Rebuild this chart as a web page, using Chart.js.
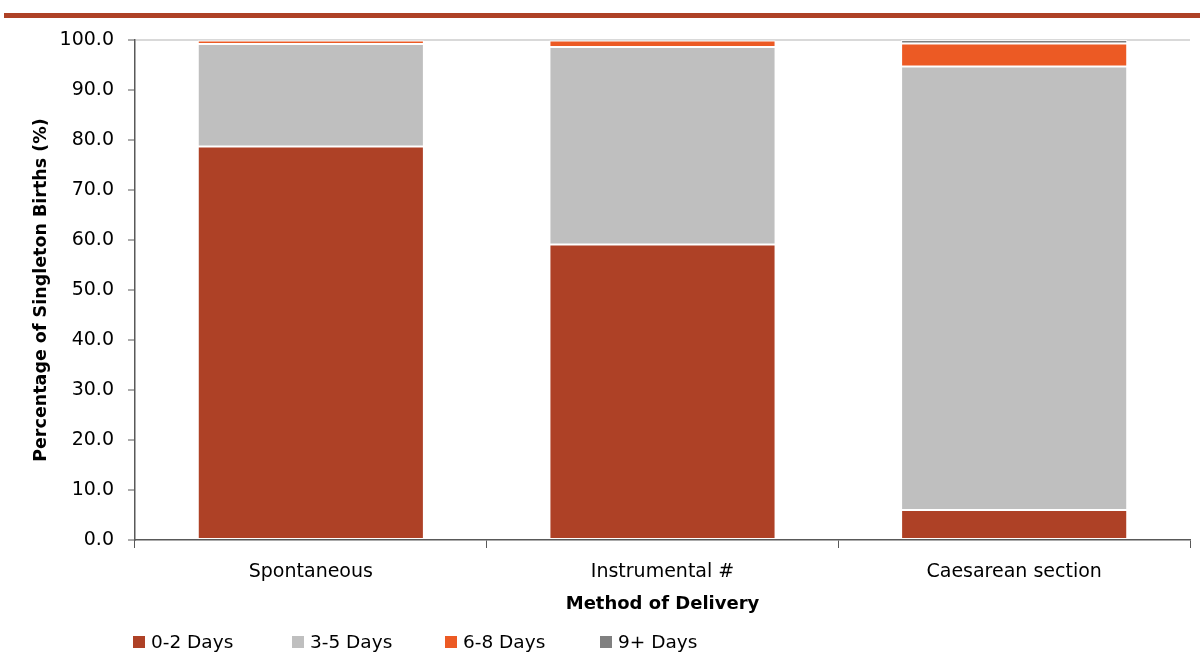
<!DOCTYPE html>
<html>
<head>
<meta charset="utf-8">
<script src="https://cdn.jsdelivr.net/npm/chart.js@4.4.1/dist/chart.umd.min.js"></script>
<style>
  html, body { margin: 0; padding: 0; background: #ffffff; }
  #wrap { position: relative; width: 1200px; height: 652px; overflow: hidden; }
  #rule { position: absolute; left: 4px; right: 0; top: 13px; height: 5px; background: #ae4126; }
  canvas { position: absolute; left: 0; top: 0; }
</style>
</head>
<body>
<div id="wrap">
  <div id="rule"></div>
  <canvas id="c" width="1200" height="652"></canvas>
</div>
<script>
// Length of stay after birth, by method of delivery (% of singleton births)
const categories = ['Spontaneous', 'Instrumental #', 'Caesarean section'];
const seriesLabels = ['0-2 Days', '3-5 Days', '6-8 Days', '9+ Days'];
const days0to2 = [78.7, 59.1, 6.0];
const days3to5 = [20.5, 39.5, 88.7];
const days6to8 = [0.7, 1.3, 4.6];
const days9plus = [0.1, 0.1, 0.7];
const yTicks = [0, 10, 20, 30, 40, 50, 60, 70, 80, 90, 100];

const seriesValues = [days0to2, days3to5, days6to8, days9plus];
const seriesColors = ['#ae4126', '#bfbfbf', '#ec5a24', '#808080'];

const FONT = "'DejaVu Sans', Verdana, sans-serif";
const AXIS_DARK = '#595959';

// Legend row drawn under the axis title
const legendRow = {
  id: 'legendRow',
  afterDraw(chart) {
    const ctx = chart.ctx;
    const itemX = [133, 292, 445, 600];
    const y = 642, box = 12;
    ctx.save();
    ctx.font = '18.5px ' + FONT;
    ctx.textBaseline = 'middle';
    ctx.textAlign = 'left';
    chart.data.datasets.forEach((ds, i) => {
      const x = itemX[i];
      ctx.fillStyle = ds.backgroundColor;
      ctx.fillRect(x, y - box / 2, box, box);
      ctx.fillStyle = '#000000';
      ctx.fillText(ds.label, x + box + 6, y + 1);
    });
    ctx.restore();
  }
};

const datasets = seriesLabels.map((label, i) => ({
  label: label,
  data: seriesValues[i],
  backgroundColor: seriesColors[i],
  borderColor: 'rgba(255,255,255,0.75)',
  borderWidth: 1,
  borderSkipped: false,
  barPercentage: 0.643,
  categoryPercentage: 1.0
}));

new Chart(document.getElementById('c'), {
  type: 'bar',
  data: { labels: categories, datasets: datasets },
  plugins: [legendRow],
  options: {
    responsive: false,
    animation: false,
    layout: { padding: { left: 0, right: 10, top: 40, bottom: 32 } },
    plugins: {
      legend: { display: false },
      tooltip: { enabled: false }
    },
    scales: {
      x: {
        stacked: true,
        border: { display: true, color: AXIS_DARK, width: 1.5 },
        grid: {
          offset: true,
          drawOnChartArea: false,
          drawTicks: true,
          tickLength: 8,
          tickColor: AXIS_DARK,
          tickWidth: 1
        },
        ticks: {
          color: '#000000',
          font: { family: FONT, size: 19 },
          padding: 13
        },
        title: {
          display: true,
          text: 'Method of Delivery',
          color: '#000000',
          font: { family: FONT, size: 18, weight: 'bold' },
          padding: { top: 0, bottom: 5 }
        },
        afterFit(scale) { scale.height = 80; }
      },
      y: {
        stacked: true,
        min: 0,
        max: 100,
        afterBuildTicks(scale) { scale.ticks = yTicks.map(v => ({ value: v })); },
        border: { display: true, color: AXIS_DARK, width: 1.5 },
        grid: {
          drawOnChartArea: true,
          color: ctx => (ctx.tick && ctx.tick.value === 100) ? '#d9d9d9' : 'rgba(0,0,0,0)',
          lineWidth: 2,
          drawTicks: true,
          tickLength: 7,
          tickColor: AXIS_DARK,
          tickWidth: 1
        },
        ticks: {
          color: '#000000',
          font: { family: FONT, size: 19 },
          padding: 14,
          callback: v => Number(v).toFixed(1)
        },
        title: {
          display: true,
          text: 'Percentage of Singleton Births (%)',
          color: '#000000',
          font: { family: FONT, size: 17.5, weight: 'bold' },
          padding: { top: 31, bottom: 0 }
        },
        afterFit(scale) { scale.width = 135; }
      }
    }
  }
});
</script>
</body>
</html>
